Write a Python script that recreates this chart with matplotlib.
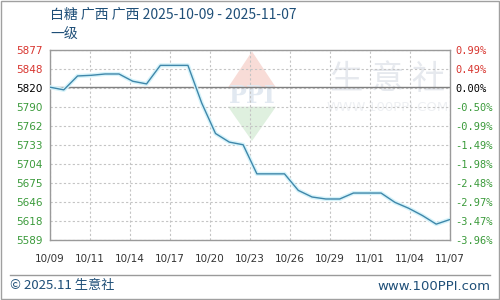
import matplotlib
matplotlib.use("Agg")
import matplotlib.pyplot as plt
from matplotlib.patches import Rectangle, Polygon
import numpy as np

plt.rcParams['font.family'] = ['Noto Sans CJK SC', 'DejaVu Sans']

# ---- data ----
title = "白糖 广西 广西 2025-10-09 - 2025-11-07"
subtitle = "一级"
days = list(range(30))  # 2025-10-09 .. 2025-11-07, daily
prices = [5820, 5816, 5837, 5838, 5840, 5840, 5829, 5825, 5853, 5853,
          5853, 5796, 5750, 5737, 5733, 5689, 5689, 5689, 5664, 5654,
          5651, 5651, 5660, 5660, 5660, 5646, 5637, 5626, 5613, 5620]
x_labels = ["10/09", "10/11", "10/14", "10/17", "10/20", "10/23",
            "10/26", "10/29", "11/01", "11/04", "11/07"]
y_labels = ["5589", "5618", "5646", "5675", "5704", "5733",
            "5762", "5790", "5820", "5848", "5877"]
pct_labels = ["-3.96%", "-3.47%", "-2.97%", "-2.48%", "-1.98%", "-1.49%",
              "-0.99%", "-0.50%", "0.00%", "0.49%", "0.99%"]
base_price = 5820

RED = "#d8352f"
GREEN = "#3a9a3a"
TXT = "#1f4f78"

fig = plt.figure(figsize=(5, 3), dpi=100)
ax = fig.add_axes([0.1, 0.2, 0.8, 0.635])

ymin, ymax = float(y_labels[0]), float(y_labels[-1])
ax.set_xlim(days[0], days[-1])
ax.set_ylim(ymin, ymax)

xt = np.linspace(days[0], days[-1], len(x_labels))
yt = np.linspace(ymin, ymax, len(y_labels))
ax.set_xticks(xt)
ax.set_xticklabels(x_labels, fontsize=7.5, color="#333333", family="DejaVu Sans")
ax.set_yticks(yt)
ax.set_yticklabels(y_labels, fontsize=7.5, family="DejaVu Sans")
ax.tick_params(length=0, pad=5)
ax.tick_params(axis='x', pad=10)

def col(lbl_val):
    if abs(lbl_val - base_price) < 1:
        return "black"
    return RED if lbl_val > base_price else GREEN

for t, lab in zip(ax.get_yticklabels(), y_labels):
    t.set_color(col(float(lab)))

ax.grid(True, color="#c4c4c4", linestyle=(0, (2, 2)), linewidth=0.8)
ax.axhline(base_price, color="#808080", linewidth=1.0, zorder=2)
for s in ax.spines.values():
    s.set_color("#9a9a9a")
    s.set_linewidth(1.0)

# watermark
ax.add_patch(Polygon([[0.505, 0.99], [0.565, 0.80], [0.445, 0.80]], closed=True,
                     transform=ax.transAxes, facecolor="#f8dcd7", edgecolor="none", zorder=0.5))
ax.add_patch(Polygon([[0.445, 0.70], [0.565, 0.70], [0.505, 0.52]], closed=True,
                     transform=ax.transAxes, facecolor="#dff0df", edgecolor="none", zorder=0.5))
ax.text(0.505, 0.755, "PPI", transform=ax.transAxes, ha="center", va="center",
        fontsize=17, fontweight="bold", color="#e2e9f1", zorder=0.6, family="DejaVu Serif")
ax.text(0.845, 0.845, "生 意 社", transform=ax.transAxes, ha="center", va="center",
        fontsize=24, color="#e6e9ee", zorder=0.6)
ax.text(0.845, 0.695, "WWW.100PPI.COM", transform=ax.transAxes, ha="center", va="center",
        fontsize=9.5, color="#eef0f3", zorder=0.6, family="DejaVu Sans")

# line
ax.plot(days, prices, color="#d6f3fa", linewidth=3.0, zorder=3, solid_joinstyle="round")
ax.plot(days, prices, color="#3f87aa", linewidth=1.0, zorder=4)

# right axis
ax2 = ax.twinx()
ax2.set_ylim(ymin, ymax)
ax2.set_yticks(yt)
ax2.set_yticklabels(pct_labels, fontsize=7.5, family="DejaVu Sans Mono")
ax2.tick_params(length=0, pad=4)
for t, lab in zip(ax2.get_yticklabels(), pct_labels):
    v = float(lab.rstrip('%'))
    t.set_color("black" if v == 0 else (RED if v > 0 else GREEN))
for s in ax2.spines.values():
    s.set_visible(False)

# titles
fig.text(0.1, 1 - 15 / 300, title, fontsize=10, color=TXT, ha="left", va="center")
fig.text(0.1, 1 - 35 / 300, subtitle, fontsize=10, color=TXT, ha="left", va="center")

# footer
fig.add_artist(plt.Line2D([10 / 500, 490 / 500], [1 - 275 / 300, 1 - 275 / 300],
                          transform=fig.transFigure, color="#9a9a9a", linewidth=1.0))
fig.text(10 / 500, 1 - 286 / 300, "© 2025.11 生意社", fontsize=9.5, color=TXT,
         ha="left", va="center")
fig.text(490 / 500, 1 - 286 / 300, "www.100PPI.com", fontsize=9.5, color=TXT,
         ha="right", va="center", family="DejaVu Sans")

# outer border
fig.add_artist(Rectangle((0.002, 0.004), 0.995, 0.992, transform=fig.transFigure,
                         fill=False, edgecolor="#a0a0a0", linewidth=1.0))

fig.savefig("out.png", dpi=100)
